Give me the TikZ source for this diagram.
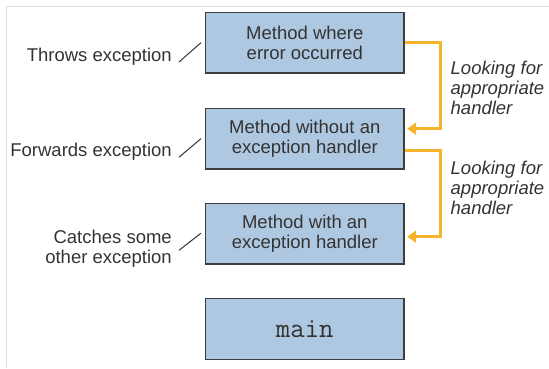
\documentclass[tikz,border=0pt]{standalone}
\usepackage{fontspec}
\setmainfont{Liberation Sans}
\usetikzlibrary{arrows.meta}
\definecolor{boxfill}{HTML}{AFC8E2}
\definecolor{boxline}{HTML}{3D3D3D}
\definecolor{txt}{HTML}{333333}
\definecolor{orng}{HTML}{F6B42C}
\definecolor{framecol}{HTML}{DDDDDD}
\tikzset{
  methodbox/.style={draw=boxline, line width=1.4pt, fill=boxfill, minimum width=198.3pt,
    minimum height=60.5pt, inner sep=0pt, align=center, text=txt,
    font=\fontsize{18.5}{20}\selectfont},
  sidelabel/.style={inner sep=0pt, text=txt, font=\fontsize{18.5}{20}\selectfont},
  labline/.style={draw=txt, line width=1pt},
  search/.style={draw=orng, line width=3pt, -{Triangle[length=9pt,width=12pt]}, shorten >=2.5pt}
}
\begin{document}
\begin{tikzpicture}[x=1pt,y=-1pt]
\useasboundingbox (0,0) rectangle (549,368);
\draw[framecol, line width=1pt] (6.7,368) -- (6.7,6.7) -- (549,6.7);

\node[methodbox] (b1) at (304.8,42.7) {Method where\\error occurred};
\node[methodbox] (b2) at (304.8,138.7) {Method without an\\exception handler};
\node[methodbox] (b3) at (304.8,233.7) {Method with an\\exception handler};
\node[methodbox, font=\fontsize{28}{30}\selectfont\ttfamily] (b4) at (304.8,329) {main};

\node[sidelabel, anchor=east] (t1) at (172,56.5) {Throws exception};
\node[sidelabel, anchor=east] (t2) at (172,151.7) {Forwards exception};
\node[sidelabel, anchor=east, align=right] (t3) at (172,248.8) {Catches some\\other exception};

\draw[labline] ([xshift=7pt,yshift=-5.5pt]t1.east) -- ([xshift=-4pt]b1.west);
\draw[labline] ([xshift=7pt,yshift=-5.5pt]t2.east) -- ([xshift=-4pt]b2.west);
\draw[labline] ([xshift=7pt,yshift=-1.5pt]t3.east) -- ([xshift=-4pt,yshift=0.5pt]b3.west);

\node[sidelabel, anchor=west, align=left, font=\fontsize{18.5}{20}\selectfont\itshape] (r1) at (450.5,88.3) {Looking for\\appropriate\\handler};
\node[sidelabel, anchor=west, align=left, font=\fontsize{18.5}{20}\selectfont\itshape] (r2) at (450.5,187.5) {Looking for\\appropriate\\handler};

\draw[search] (b1.east) -- ++(36,0) |- ([yshift=10pt]b2.east);
\draw[search] ([yshift=-12pt]b2.east) -- ++(36,0) |- ([yshift=-3pt]b3.east);
\end{tikzpicture}
\end{document}
